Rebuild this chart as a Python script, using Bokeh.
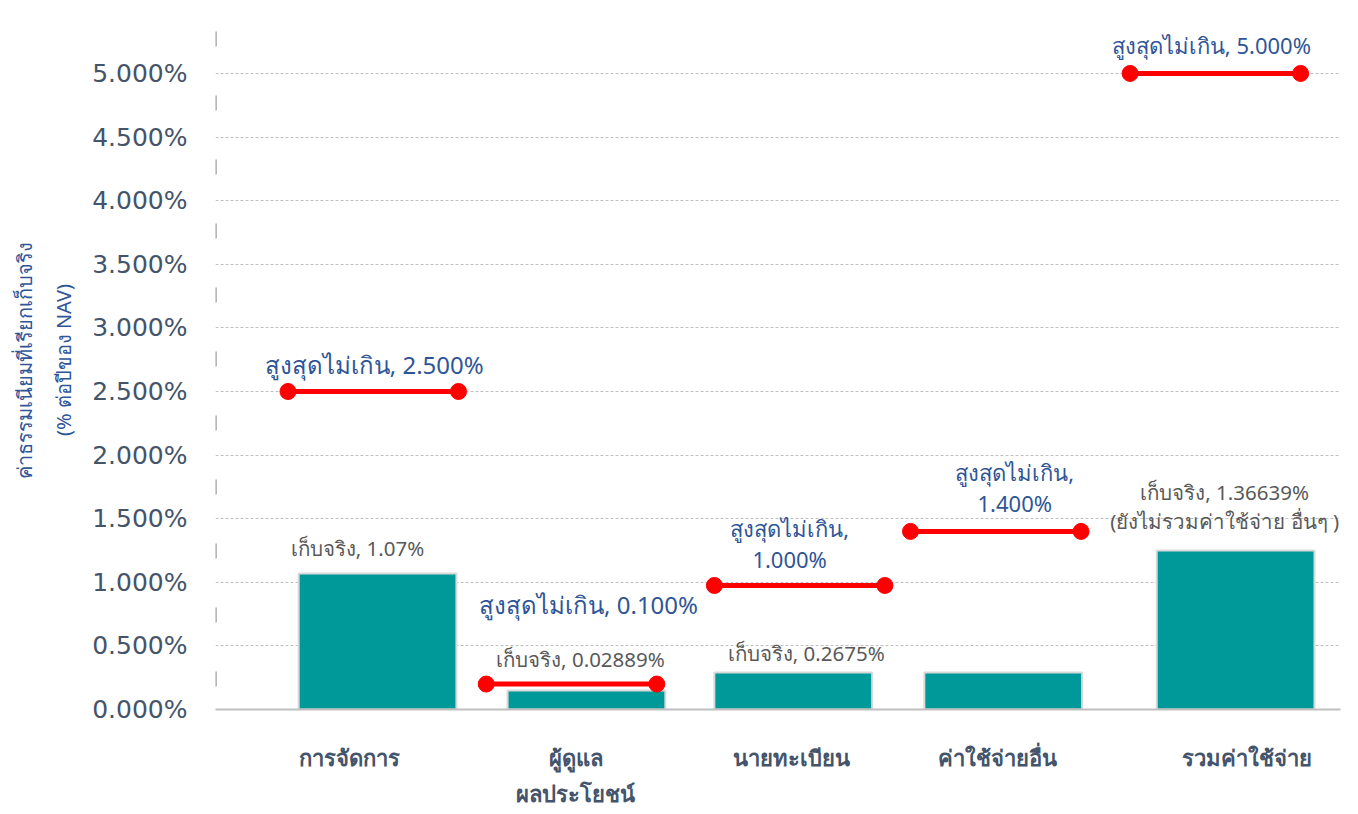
import numpy as np
from bokeh.plotting import figure
from bokeh.models import ColumnDataSource, FixedTicker, Range1d, LinearAxis
from bokeh.core.properties import value
from bokeh.embed import file_html
from bokeh.resources import INLINE

# ---------------- data ----------------
categories = ["การจัดการ", "ผู้ดูแล\nผลประโยชน์", "นายทะเบียน", "ค่าใช้จ่ายอื่น", "รวมค่าใช้จ่าย"]
actual_bar = [1.07, 0.15, 0.29, 0.29, 1.25]
limit_level = [2.5, 0.2, 0.975, 1.4, 5.0]
actual_labels = ["เก็บจริง, 1.07%", "เก็บจริง, 0.02889%", "เก็บจริง, 0.2675%", "",
                 "เก็บจริง, 1.36639%\n(ยังไม่รวมค่าใช้จ่าย อื่นๆ )"]
limit_labels = ["สูงสุดไม่เกิน, 2.500%", "สูงสุดไม่เกิน, 0.100%", "สูงสุดไม่เกิน,\n1.000%",
                "สูงสุดไม่เกิน,\n1.400%", "สูงสุดไม่เกิน, 5.000%"]
y_ticks = [0.0, 0.5, 1.0, 1.5, 2.0, 2.5, 3.0, 3.5, 4.0, 4.5, 5.0]
y_tick_labels = ["0.000%", "0.500%", "1.000%", "1.500%", "2.000%", "2.500%",
                 "3.000%", "3.500%", "4.000%", "4.500%", "5.000%"]
y_title_1 = "ค่าธรรมเนียมที่เรียกเก็บจริง"
y_title_2 = "(% ต่อปีของ NAV)"

# ---------------- layout / style ----------------
bar_shift = [0.02, 0.0, -0.03, -0.045, 0.045]
limit_shift = [0.0, -0.07, 0.0, -0.08, -0.05]
tick_shift = [-0.11, -0.05, -0.04, -0.07, 0.10]
limit_dx = [1, 17, -10, 19, -4]
limit_dy = [-10, -63, -11, -13, -13]
limit_size = ["24px", "24px", "22px", "22px", "22px"]
actual_dx = [-20, -6, 13, 0, -11]
actual_dy = [-11, -17, -6, 0, -15]

THAI = "Noto Sans"
BAR = "#009999"
RED = "#FF0000"
BLUE = "#2F5597"
GRAY_TXT = "#595959"
AXIS_TXT = "#44546A"

x = np.arange(len(categories), dtype=float)
xb = x + np.array(bar_shift)
xl = x + np.array(limit_shift)
half = 0.40

p = figure(width=1352, height=810, output_backend="svg", toolbar_location=None,
           x_range=Range1d(-0.74, 4.537), y_range=Range1d(0, 5.495),
           min_border_left=215, min_border_right=12, min_border_top=10, min_border_bottom=10)
p.outline_line_color = None
p.background_fill_color = "white"
p.border_fill_color = "white"

# grid
p.xgrid.grid_line_color = None
p.ygrid.ticker = FixedTicker(ticks=y_ticks[1:])
p.ygrid.grid_line_color = "#BFBFBF"
p.ygrid.grid_line_dash = "3 2"
p.ygrid.grid_line_width = 1

# bars
bars = ColumnDataSource(dict(x=xb, top=actual_bar))
p.vbar(x="x", top="top", width=0.74, source=bars, fill_color=BAR,
       line_color="#D9D9D9", line_width=2)

# limit lines
lim = ColumnDataSource(dict(x0=xl - half, x1=xl + half, y=limit_level))
p.segment(x0="x0", x1="x1", y0="y", y1="y", source=lim, line_color=RED, line_width=5)
p.scatter(x="x0", y="y", source=lim, size=16, color=RED)
p.scatter(x="x1", y="y", source=lim, size=16, color=RED)

# labels
lsrc = ColumnDataSource(dict(x=xl, y=limit_level, t=limit_labels, dx=limit_dx, dy=limit_dy,
                             fs=limit_size))
p.text(x="x", y="y", text="t", x_offset="dx", y_offset="dy", source=lsrc,
       text_font=value(THAI), text_font_size="fs", text_color=BLUE,
       text_align="center", text_baseline="bottom", text_line_height=1.05)
asrc = ColumnDataSource(dict(x=xb, y=actual_bar, t=actual_labels, dx=actual_dx, dy=actual_dy))
p.text(x="x", y="y", text="t", x_offset="dx", y_offset="dy", source=asrc,
       text_font=value(THAI), text_font_size="20.5px", text_color=GRAY_TXT,
       text_align="center", text_baseline="bottom", text_line_height=1.05)

# left dashed axis line
p.line(x=[-0.74, -0.74], y=[0, 5.495], line_color="#A0A0A0", line_width=2.5,
       line_dash="15 49", line_dash_offset=41)

# y axis
ya = p.yaxis[0]
ya.ticker = FixedTicker(ticks=y_ticks)
ya.major_label_overrides = {t: l for t, l in zip(y_ticks, y_tick_labels)}
ya.axis_line_color = None
ya.major_tick_line_color = None
ya.minor_tick_line_color = None
ya.major_label_standoff = 22
ya.major_label_text_font = "DejaVu Sans"
ya.major_label_text_font_size = "25px"
ya.major_label_text_color = AXIS_TXT
ya.axis_label = y_title_2
ya.axis_label_text_font = THAI
ya.axis_label_text_font_size = "20px"
ya.axis_label_text_font_style = "normal"
ya.axis_label_text_color = BLUE
ya.axis_label_standoff = 12

ya2 = LinearAxis(ticker=FixedTicker(ticks=[]), axis_line_color=None,
                 major_tick_line_color=None, minor_tick_line_color=None,
                 major_label_text_font_size="0px",
                 axis_label=y_title_1, axis_label_text_font=THAI,
                 axis_label_text_font_size="20px", axis_label_text_font_style="normal",
                 axis_label_text_color=BLUE, axis_label_standoff=10)
p.add_layout(ya2, "left")

# x axis
xa = p.xaxis[0]
ticks_x = [float(v) for v in (x + np.array(tick_shift))]
xa.ticker = FixedTicker(ticks=ticks_x)
xa.major_label_overrides = {t: c for t, c in zip(ticks_x, categories)}
xa.axis_line_color = "#BFBFBF"
xa.axis_line_width = 2
xa.major_tick_line_color = None
xa.minor_tick_line_color = None
xa.major_label_standoff = 26
xa.major_label_text_font = THAI
xa.major_label_text_font_size = "22px"
xa.major_label_text_font_style = "bold"
xa.major_label_text_color = AXIS_TXT

open("out.html", "w").write(file_html(p, INLINE))
